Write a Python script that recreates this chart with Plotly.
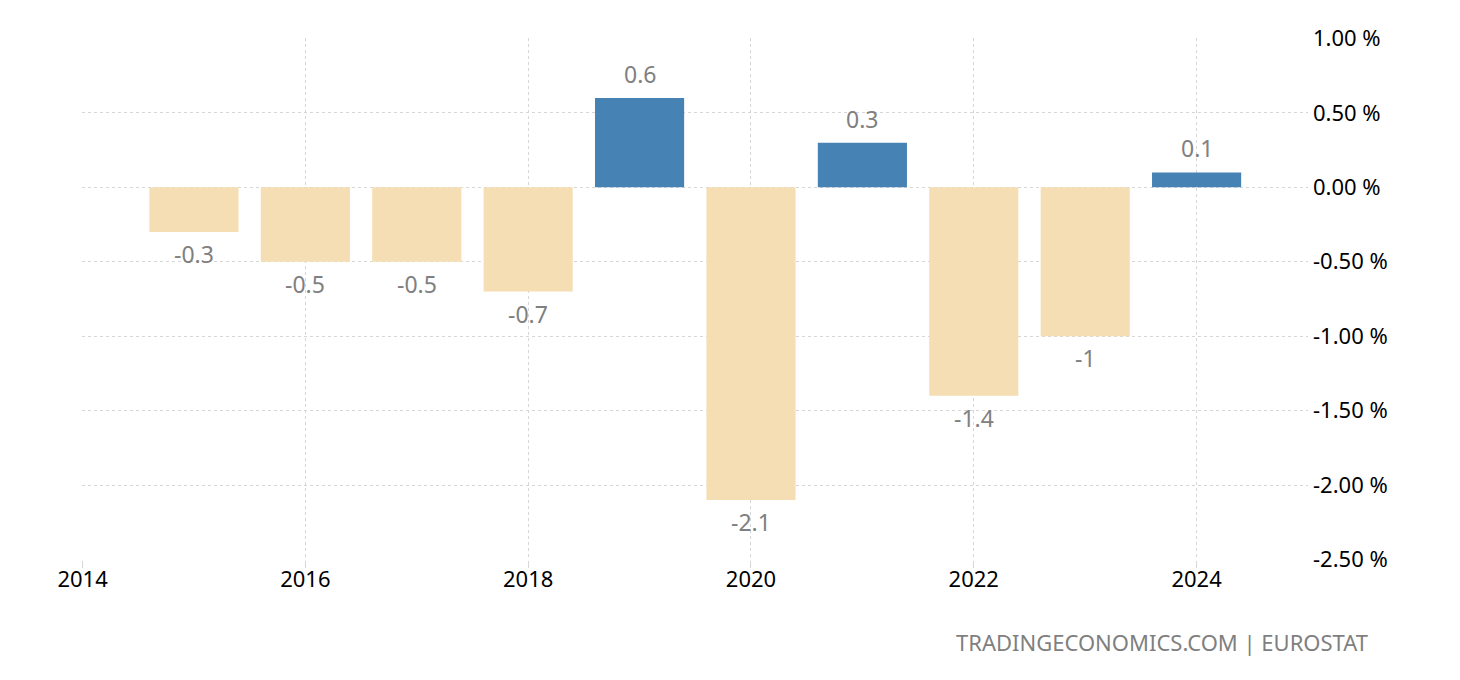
import plotly.graph_objects as go

# yearly change, percent
years = [2015, 2016, 2017, 2018, 2019, 2020, 2021, 2022, 2023, 2024]
values = [-0.3, -0.5, -0.5, -0.7, 0.6, -2.1, 0.3, -1.4, -1.0, 0.1]
labels = ["-0.3", "-0.5", "-0.5", "-0.7", "0.6", "-2.1", "0.3", "-1.4", "-1", "0.1"]

x_ticks = [2014, 2016, 2018, 2020, 2022, 2024]
y_ticks = [1.0, 0.5, 0.0, -0.5, -1.0, -1.5, -2.0, -2.5]
y_ticktext = ["%.2f %%" % v for v in y_ticks]

FONT = "Noto Sans"
colors = ["#4682B4" if v > 0 else "#F5DEB3" for v in values]

fig = go.Figure()
fig.add_trace(go.Bar(
    x=years,
    y=values,
    width=0.8,
    marker=dict(color=colors, line=dict(width=0)),
    hoverinfo="x+y",
))

# value labels just beyond the end of each bar
for x, v, t in zip(years, values, labels):
    fig.add_annotation(
        x=x, y=v, text=t,
        xref="x", yref="y",
        showarrow=False,
        yanchor="middle",
        yshift=24 if v > 0 else -22,
        font=dict(family=FONT, size=23, color="#808080"),
    )

fig.update_layout(
    width=1460,
    height=680,
    margin=dict(l=74, r=160, t=30, b=128),
    plot_bgcolor="white",
    paper_bgcolor="white",
    showlegend=False,
    font=dict(family=FONT, size=22, color="black"),
)
fig.update_xaxes(
    range=[2013.995, 2025],
    tickvals=x_ticks,
    ticktext=[str(t) for t in x_ticks],
    showgrid=True,
    gridcolor="#d6d6d6",
    griddash="dot",
    gridwidth=1,
    ticks="outside",
    ticklen=7,
    tickcolor="#d6d6d6",
    ticklabelstandoff=-7,
    zeroline=False,
    showline=False,
    tickfont=dict(family=FONT, size=22, color="black"),
)
fig.update_yaxes(
    range=[-2.503, 1.003],
    side="right",
    tickvals=y_ticks,
    ticktext=y_ticktext,
    showgrid=True,
    gridcolor="#d6d6d6",
    griddash="dot",
    gridwidth=1,
    zeroline=False,
    showline=False,
    ticks="",
    ticklabelstandoff=4,
    tickfont=dict(family=FONT, size=22, color="black"),
)

fig.add_annotation(
    text="TRADINGECONOMICS.COM | EUROSTAT",
    xref="paper", yref="paper",
    x=1 + 62 / 1226, y=-0.157,
    xanchor="right", yanchor="middle",
    showarrow=False,
    font=dict(family=FONT, size=22, color="#7f7f7f"),
)

fig.write_html("out.html")
